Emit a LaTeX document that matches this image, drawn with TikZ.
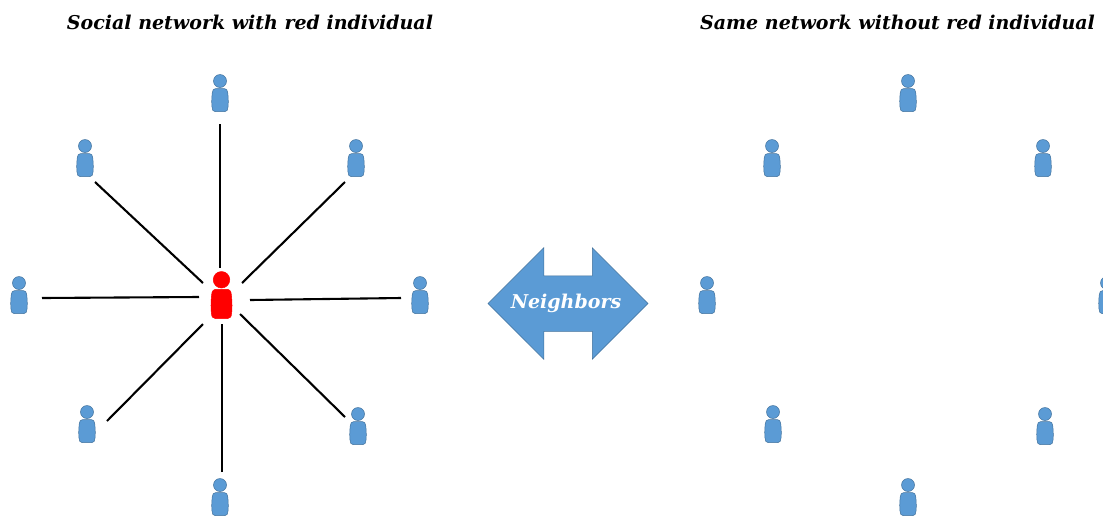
\documentclass[tikz,border=0pt]{standalone}
\usepackage{fontspec}
\setmainfont{DejaVu Serif}
\usepackage{xcolor}
\usetikzlibrary{shapes.arrows}
\definecolor{personblue}{HTML}{5B9BD5}
\definecolor{personedge}{HTML}{41719C}
\tikzset{
    person/.style n args={3}{minimum width=24*#3, minimum height=46*#3, inner sep=0pt,
        path picture={
            \begin{scope}[shift={(path picture bounding box.center)}, x=#3pt, y=-#3pt, fill=#1, draw=#2, line width=0.5pt]
                \filldraw (0,-12) circle (6.5);
                \filldraw (-4,-4.5) .. controls (-6.5,-4.5) and (-7.6,-3) .. (-7.8,0)
                    .. controls (-8.4,6) and (-8.4,11) .. (-8,14)
                    .. controls (-7.8,17) and (-7,18.5) .. (-5,18.5)
                    -- (5,18.5)
                    .. controls (7,18.5) and (7.8,17) .. (8,14)
                    .. controls (8.4,11) and (8.4,6) .. (7.8,0)
                    .. controls (7.6,-3) and (6.5,-4.5) .. (4,-4.5) -- cycle;
            \end{scope}
        }},
    friend/.style={person={personblue}{personedge}{1}},
    link/.style={line width=2.1pt, black},
    heading/.style={font=\bfseries\itshape\fontsize{19}{22}\selectfont, inner sep=0pt}
}

\begin{document}
\begin{tikzpicture}[x=1pt, y=-1pt]
    \useasboundingbox (0,0) rectangle (1103,515);

    \node[heading] (title1) at (250,22) {Social network with red individual};
    \node[heading] (title2) at (897.5,22) {Same network without red individual};

    \node[person={red}{red}{1.27}] (center) at (221.5,295) {};

    % left network
    \foreach \name/\x/\y in {p1/220/93, p2/356/158, p3/420/295, p4/358/426,
                             p5/220/497, p6/87/424, p7/19/295, p8/85/158}
        \node[friend] (\name) at (\x,\y) {};

    % right network
    \foreach \name/\x/\y in {q1/908/93, q2/1043/158, q3/1107/295, q4/1045/426,
                             q5/908/497, q6/773/424, q7/707/295, q8/772/158}
        \node[friend] (\name) at (\x,\y) {};

    % links stop short of the people
    \foreach \name/\a/\b/\c/\d in {p1/0/31/-1.5/-27, p2/-11/24/20.5/-12, p3/-19/3/28.5/5,
                                   p4/-13/-9/18.5/19, p5/2/-25/0.5/29, p6/20/-3/-18.5/29,
                                   p7/23/3/-22.5/2, p8/10/24/-18.5/-12}
        \draw[link] ([shift={(\a,\b)}]\name.center) -- ([shift={(\c,\d)}]center.center);

    \node[double arrow, double arrow tip angle=90, double arrow head extend=28,
          minimum height=160, minimum width=111, inner xsep=0pt, inner ysep=27.5pt,
          fill=personblue, draw=personedge, line width=0.5pt] (arrow) at (568,303.5) {};
    \node[heading, text=white] (neighbors) at (566,303.5) {Neighbors};
\end{tikzpicture}
\end{document}
